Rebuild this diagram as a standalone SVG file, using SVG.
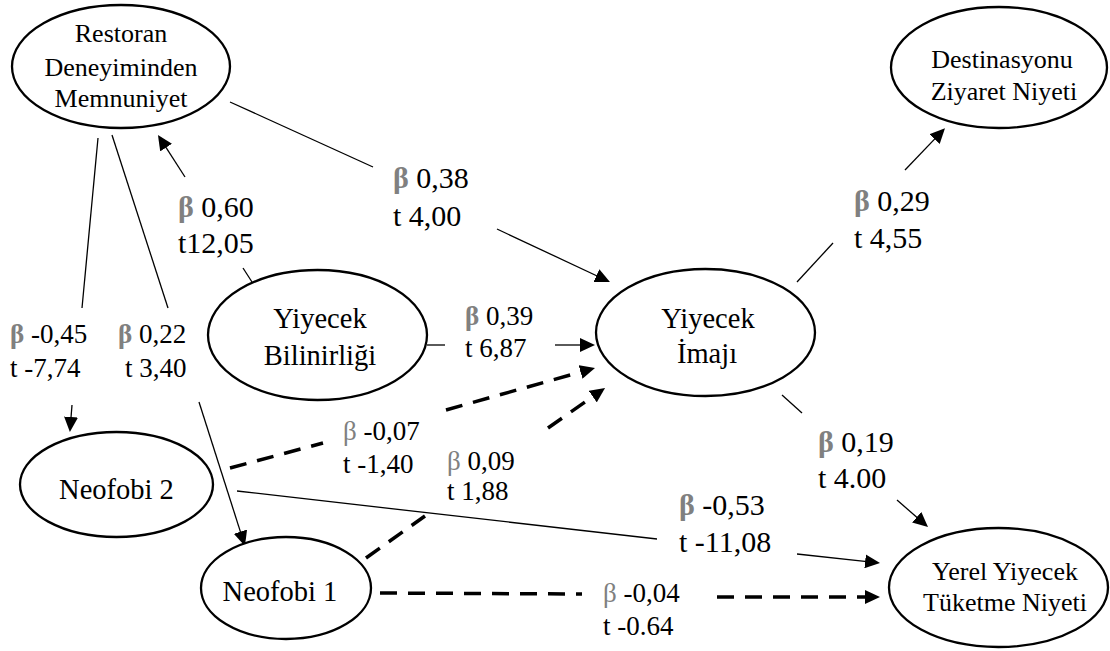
<svg xmlns="http://www.w3.org/2000/svg" width="1110" height="651" viewBox="0 0 1110 651">
<defs>
<style>
.node ellipse{fill:#fff;stroke:#000;stroke-width:2.3}
.nt{font-family:"Liberation Serif","Times New Roman",serif;fill:#000;text-anchor:middle}
.n26{font-size:26px}
.n28{font-size:28.5px}
.lbl{font-family:"Liberation Serif","Times New Roman",serif;fill:#000}
.L{font-size:30px}
.S{font-size:27px}
.bb{fill:#808080;font-weight:bold}
.bg{fill:#808080}
#connectors line{stroke:#000;fill:none}
.solid{stroke-width:1.3}
.dash{stroke-width:3.5;stroke-dasharray:17 11}
</style>
<marker id="ah" markerUnits="userSpaceOnUse" markerWidth="16" markerHeight="14" refX="2" refY="7" orient="auto"><path d="M0,0 L15,7 L0,14 Z" fill="#000"/></marker>
</defs>
<rect x="0" y="0" width="1110" height="651" fill="#fff"/>

<g id="connectors">
  <g id="e-restoran-imaj">
    <line class="solid" x1="230" y1="102" x2="373" y2="167"/>
    <line class="solid" x1="497" y1="229" x2="598.2" y2="276.5" marker-end="url(#ah)"/>
  </g>
  <g id="e-bilinirlik-restoran">
    <line class="solid" x1="252" y1="282" x2="243" y2="268"/>
    <line class="solid" x1="185" y1="177" x2="165" y2="145.9" marker-end="url(#ah)"/>
  </g>
  <g id="e-restoran-neofobi2">
    <line class="solid" x1="98" y1="138" x2="82" y2="308"/>
    <line class="solid" x1="72" y1="405" x2="70.9" y2="419" marker-end="url(#ah)"/>
  </g>
  <g id="e-restoran-neofobi1">
    <line class="solid" x1="112" y1="135" x2="168" y2="308"/>
    <line class="solid" x1="199" y1="402" x2="241" y2="533.6" marker-end="url(#ah)"/>
  </g>
  <g id="e-bilinirlik-imaj">
    <line class="solid" x1="427" y1="345" x2="445" y2="345"/>
    <line class="solid" x1="555" y1="345" x2="582" y2="345" marker-end="url(#ah)"/>
  </g>
  <g id="e-neofobi2-imaj">
    <line class="dash" x1="230" y1="468" x2="323" y2="443"/>
    <line class="dash" x1="446" y1="410" x2="582.5" y2="371.5" marker-end="url(#ah)"/>
  </g>
  <g id="e-neofobi1-imaj">
    <line class="dash" x1="366" y1="558" x2="425" y2="516"/>
    <line class="dash" x1="548" y1="428" x2="594.4" y2="395.5" marker-end="url(#ah)"/>
  </g>
  <g id="e-neofobi2-yerel">
    <line class="solid" x1="237" y1="491" x2="657" y2="539"/>
    <line class="solid" x1="797" y1="554" x2="867.1" y2="561.6" marker-end="url(#ah)"/>
  </g>
  <g id="e-neofobi1-yerel">
    <line class="dash" x1="380" y1="593" x2="582" y2="594"/>
    <line class="dash" x1="717" y1="597" x2="867" y2="597" marker-end="url(#ah)"/>
  </g>
  <g id="e-imaj-destinasyon">
    <line class="solid" x1="797" y1="282" x2="833" y2="243"/>
    <line class="solid" x1="905" y1="170" x2="936" y2="137.6" marker-end="url(#ah)"/>
  </g>
  <g id="e-imaj-yerel">
    <line class="solid" x1="782" y1="395" x2="802" y2="413"/>
    <line class="solid" x1="897" y1="500" x2="918.2" y2="518.5" marker-end="url(#ah)"/>
  </g>
</g>

<g id="edge-labels">
  <text class="lbl L" x="393" y="188"><tspan class="bb">β</tspan> 0,38</text>
  <text class="lbl L" x="393" y="226">t 4,00</text>
  <text class="lbl L" x="178" y="217"><tspan class="bb">β</tspan> 0,60</text>
  <text class="lbl L" x="178" y="253">t12,05</text>
  <text class="lbl S" x="10" y="343"><tspan class="bb">β</tspan> -0,45</text>
  <text class="lbl S" x="10" y="377">t -7,74</text>
  <text class="lbl S" x="118" y="343"><tspan class="bb">β</tspan> 0,22</text>
  <text class="lbl S" x="125" y="377">t 3,40</text>
  <text class="lbl S" x="465" y="325"><tspan class="bb">β</tspan> 0,39</text>
  <text class="lbl S" x="465" y="357">t 6,87</text>
  <text class="lbl S" x="343" y="440"><tspan class="bg">β</tspan> -0,07</text>
  <text class="lbl S" x="343" y="473">t -1,40</text>
  <text class="lbl S" x="447" y="470"><tspan class="bg">β</tspan> 0,09</text>
  <text class="lbl S" x="447" y="500">t 1,88</text>
  <text class="lbl L" x="854" y="211"><tspan class="bb">β</tspan> 0,29</text>
  <text class="lbl L" x="854" y="248">t 4,55</text>
  <text class="lbl L" x="818" y="452"><tspan class="bb">β</tspan> 0,19</text>
  <text class="lbl L" x="818" y="488">t 4.00</text>
  <text class="lbl L" x="679" y="515"><tspan class="bb">β</tspan> -0,53</text>
  <text class="lbl L" x="679" y="552">t -11,08</text>
  <text class="lbl S" x="603" y="602"><tspan class="bg">β</tspan> -0,04</text>
  <text class="lbl S" x="603" y="635">t -0.64</text>
</g>

<g id="n-restoran" class="node">
  <ellipse cx="121" cy="66.5" rx="109" ry="61.5"/>
  <text class="nt n26" x="121" y="42">Restoran</text>
  <text class="nt n26" x="121" y="76">Deneyiminden</text>
  <text class="nt n26" x="121" y="107">Memnuniyet</text>
</g>
<g id="n-destinasyon" class="node">
  <ellipse cx="999" cy="67.5" rx="108" ry="60.5"/>
  <text class="nt n26" x="1002" y="68">Destinasyonu</text>
  <text class="nt n26" x="1004" y="100">Ziyaret Niyeti</text>
</g>
<g id="n-bilinirlik" class="node">
  <ellipse cx="317.5" cy="335" rx="109.5" ry="65"/>
  <text class="nt n28" x="320" y="328">Yiyecek</text>
  <text class="nt n28" x="320" y="365">Bilinirliği</text>
</g>
<g id="n-imaj" class="node">
  <ellipse cx="705.5" cy="332.5" rx="109.5" ry="63.5"/>
  <text class="nt n28" x="708" y="328">Yiyecek</text>
  <text class="nt n28" x="707" y="363">İmajı</text>
</g>
<g id="n-neofobi2" class="node">
  <ellipse cx="116.5" cy="484.5" rx="96.5" ry="52.5"/>
  <text class="nt n28" x="116.5" y="499">Neofobi 2</text>
</g>
<g id="n-neofobi1" class="node">
  <ellipse cx="286" cy="588" rx="85" ry="51"/>
  <text class="nt n28" x="280" y="601">Neofobi 1</text>
</g>
<g id="n-yerel" class="node">
  <ellipse cx="998.5" cy="587.5" rx="109.5" ry="59.5"/>
  <text class="nt n26" x="1005" y="580">Yerel Yiyecek</text>
  <text class="nt n26" x="1005" y="611">Tüketme Niyeti</text>
</g>
</svg>
